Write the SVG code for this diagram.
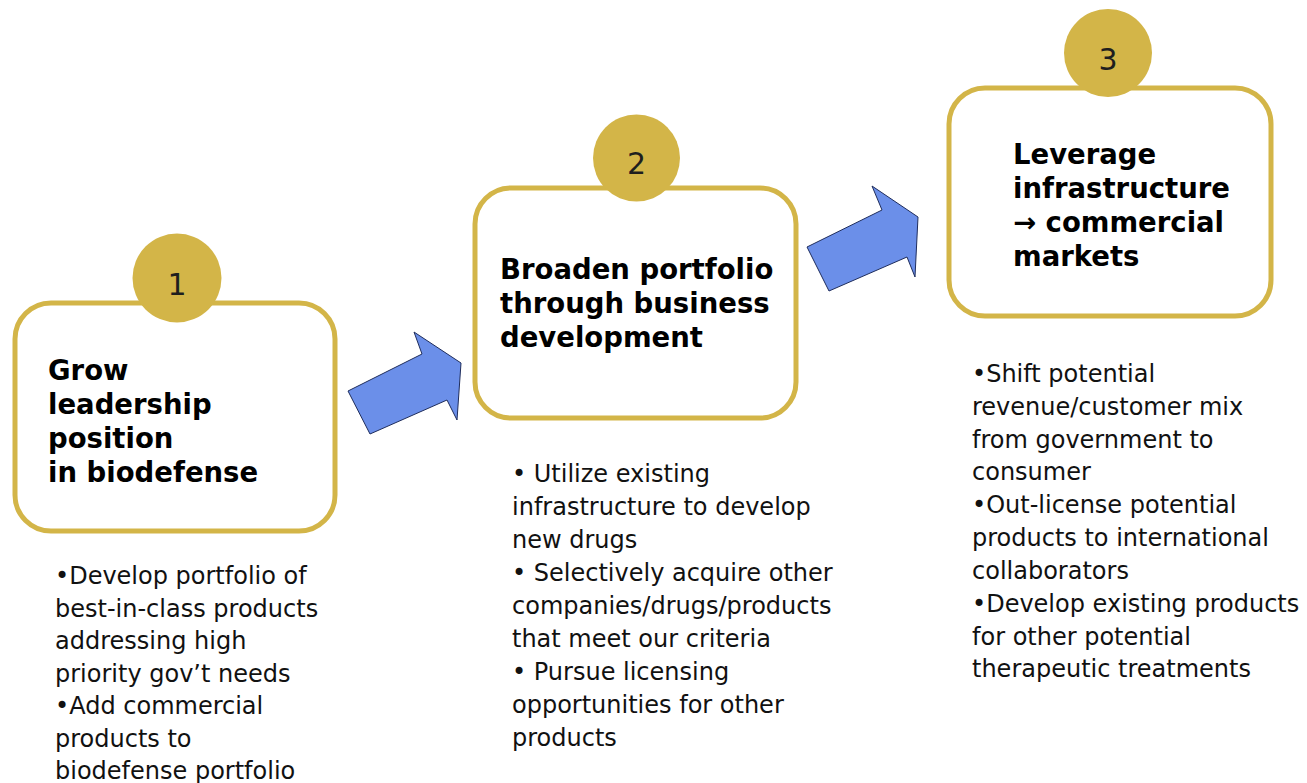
<svg xmlns="http://www.w3.org/2000/svg" width="1307" height="783" viewBox="0 0 1307 783">
<style>
.box{fill:#fff;stroke:#d3b548;stroke-width:5}
.num{fill:#d3b548}
.numt{font-family:"DejaVu Sans",Verdana,sans-serif;font-size:30px;fill:#1e1e1e;text-anchor:middle}
.title{font-family:"DejaVu Sans",Verdana,sans-serif;font-size:27.5px;font-weight:bold;fill:#000}
.body{font-family:"DejaVu Sans",Verdana,sans-serif;font-size:24px;fill:#111}
.arrow{fill:#6b8fe9;stroke:#1f2d5c;stroke-width:1}
</style>
<rect width="1307" height="783" fill="#fff"/>
<g id="connectors">
<polygon class="arrow" points="348,391 422,354 414,332 461,363 457,420 447,400 370,434"/>
<polygon class="arrow" points="807,247 882,210 872,186 918,217 915,277 907,257 829,291"/>
</g>
<g id="node1">
<rect class="box" x="15" y="303" width="320" height="228" rx="36"/>
<circle class="num" cx="177" cy="278" r="44.5"/>
<text class="numt" x="177" y="295">1</text>
<text class="title"><tspan x="48" y="380">Grow</tspan><tspan x="48" y="414">leadership</tspan><tspan x="48" y="448">position</tspan><tspan x="48" y="482">in biodefense</tspan></text>
<text class="body"><tspan x="55" y="584">•Develop portfolio of</tspan><tspan x="55" y="616.5">best-in-class products</tspan><tspan x="55" y="649">addressing high</tspan><tspan x="55" y="681.5">priority gov’t needs</tspan><tspan x="55" y="714">•Add commercial</tspan><tspan x="55" y="746.5">products to</tspan><tspan x="55" y="779">biodefense portfolio</tspan></text>
</g>
<g id="node2">
<rect class="box" x="475" y="188" width="321" height="230" rx="36"/>
<circle class="num" cx="636.5" cy="158" r="43.5"/>
<text class="numt" x="636.5" y="174">2</text>
<text class="title"><tspan x="500" y="279">Broaden portfolio</tspan><tspan x="500" y="313">through business</tspan><tspan x="500" y="347">development</tspan></text>
<text class="body"><tspan x="512" y="482">• Utilize existing</tspan><tspan x="512" y="515">infrastructure to develop</tspan><tspan x="512" y="548">new drugs</tspan><tspan x="512" y="581">• Selectively acquire other</tspan><tspan x="512" y="614">companies/drugs/products</tspan><tspan x="512" y="647">that meet our criteria</tspan><tspan x="512" y="680">• Pursue licensing</tspan><tspan x="512" y="713">opportunities for other</tspan><tspan x="512" y="746">products</tspan></text>
</g>
<g id="node3">
<rect class="box" x="949" y="88" width="322" height="228" rx="36"/>
<circle class="num" cx="1108" cy="53" r="44"/>
<text class="numt" x="1108" y="70">3</text>
<text class="title"><tspan x="1013" y="164">Leverage</tspan><tspan x="1013" y="198">infrastructure</tspan><tspan x="1013" y="232">→ commercial</tspan><tspan x="1013" y="266">markets</tspan></text>
<text class="body"><tspan x="972" y="382">•Shift potential</tspan><tspan x="972" y="415">revenue/customer mix</tspan><tspan x="972" y="448">from government to</tspan><tspan x="972" y="480">consumer</tspan><tspan x="972" y="513">•Out-license potential</tspan><tspan x="972" y="546">products to international</tspan><tspan x="972" y="579">collaborators</tspan><tspan x="972" y="612">•Develop existing products</tspan><tspan x="972" y="645">for other potential</tspan><tspan x="972" y="677">therapeutic treatments</tspan></text>
</g>
</svg>
